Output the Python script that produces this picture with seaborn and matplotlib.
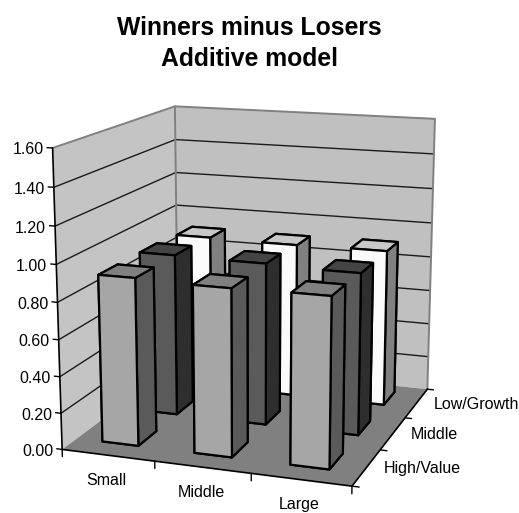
import numpy as np
import matplotlib
matplotlib.use("Agg")
import matplotlib.pyplot as plt
import seaborn as sns
from mpl_toolkits.mplot3d.art3d import Poly3DCollection
from mpl_toolkits.mplot3d import proj3d

size_labels = ["Small", "Middle", "Large"]
value_labels = ["High/Value", "Middle", "Low/Growth"]
z_ticks = [0.0, 0.2, 0.4, 0.6, 0.8, 1.0, 1.2, 1.4, 1.6]
high_value = [0.915, 0.905, 0.91]
middle_value = [0.915, 0.91, 0.90]
low_growth = [0.90, 0.895, 0.90]

sns.set_theme(style="white")
plt.rcParams["font.family"] = ["Liberation Sans", "DejaVu Sans"]

W, H = 519, 513
fig = plt.figure(figsize=(W / 100, H / 100), dpi=100)
L, B, S = 1.0, -19.4, 494.8
ax = fig.add_axes([L / W, B / H, S / W, S / H], projection="3d")
ax.set_xlim(0, 3); ax.set_ylim(0, 3); ax.set_zlim(0, 1.6)
ax.computed_zorder = False
ax.set_axis_off()
ax.view_init(elev=14.0183, azim=-70.7861)
ax.set_proj_type("persp", focal_length=float(np.exp(-0.5356)))
ax.set_box_aspect((1, float(np.exp(0.0304)), float(np.exp(0.0123))))


def wall(v, col, z):
    ax.add_collection3d(Poly3DCollection([v], facecolors=col, edgecolors="none", zorder=z))


def label(x, y, z, s, dx, dy, **kw):
    X, Y, _ = proj3d.proj_transform(x, y, z, ax.get_proj())
    ax.annotate(s, xy=(X, Y), xycoords="data", xytext=(dx * 0.72, dy * 0.72),
                textcoords="offset points", fontsize=11.5, color="black",
                annotation_clip=False, **kw)


zt = z_ticks[-1]
wall([(0, 0, 0), (0, 3, 0), (0, 3, zt), (0, 0, zt)], "#C4C4C4", 1)
wall([(0, 3, 0), (3, 3, 0), (3, 3, zt), (0, 3, zt)], "#C0C0C0", 1)
wall([(0, 0, 0), (3, 0, 0), (3, 3, 0), (0, 3, 0)], "#808080", 1)
for t in z_ticks[1:-1]:
    ax.plot([0, 0, 3], [0, 3, 3], [t, t, t], color="#1a1a1a", lw=1, zorder=2)
ax.plot([0, 0, 3, 3], [0, 3, 3, 3], [zt, zt, zt, 0], color="#808080", lw=1.4, zorder=2)
ax.plot([0, 0], [3, 3], [0, zt], color="#808080", lw=1.4, zorder=2)
ax.plot([0, 0, 3, 3], [0, 0, 0, 3], [zt, 0, 0, 0], color="black", lw=1.2, zorder=50)
for t in z_ticks:
    ax.plot([-.06, 0], [0, 0], [t, t], color="black", lw=1, zorder=50)
    label(0, 0, t, f"{t:.2f}", -9, -2, ha="right", va="center")
for i in range(4):
    ax.plot([i, i], [0, 0], [-.04, 0], color="black", lw=1, zorder=50)
    ax.plot([3, 3.07], [i, i], [0, 0], color="black", lw=1, zorder=50)
for i, l in enumerate(size_labels):
    label(i + .5, 0, 0, l, -1.5, -25, ha="center", va="center")
for i, l in enumerate(value_labels):
    label(3, i + .5, 0, l, 17.5, -1, ha="left", va="center")

rows = [(high_value, ["#808080", "#808080", "#A6A6A6", "#A6A6A6", "#5A5A5A", "#5A5A5A"]),
        (middle_value, ["#444444", "#444444", "#5A5A5A", "#5A5A5A", "#2E2E2E", "#2E2E2E"]),
        (low_growth, ["#C8C8C8", "#C8C8C8", "#FAFAFA", "#FAFAFA", "#808080", "#808080"])]
w = .395
dp = .45
zo = 10
for j in (2, 1, 0):
    vals, cols = rows[j]
    for i, v in enumerate(vals):
        ax.bar3d(i + .48 - w / 2, j + .56 - dp / 2, 0, w, dp, v, color=cols, edgecolor="black",
                 linewidth=1.6, shade=False, zorder=zo)
        zo += 1
ax.set_xlim(0, 3); ax.set_ylim(0, 3); ax.set_zlim(0, zt)
fig.text(249.5 / W, 1 - 43.5 / H, "Winners minus Losers\nAdditive model", ha="center", va="center",
         fontsize=17.8, fontweight="bold", linespacing=1.33, color="black")
fig.savefig("out.png", dpi=100)
